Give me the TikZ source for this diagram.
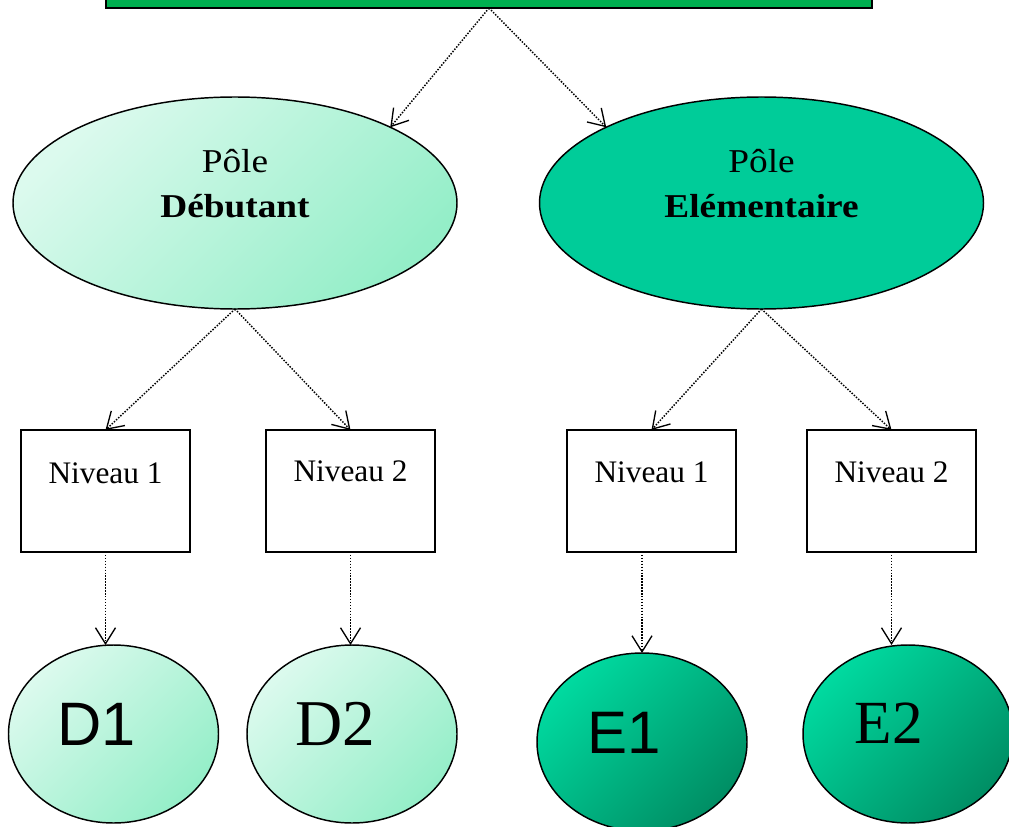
\documentclass[tikz,border=0pt]{standalone}
\usepackage{fontspec}
\setmainfont{Liberation Serif}
\newfontfamily\arialf{Liberation Sans}
\usetikzlibrary{shapes.geometric,arrows.meta}
\definecolor{topgreen}{RGB}{0,176,80}
\definecolor{lightA}{RGB}{220,250,238}
\definecolor{lightB}{RGB}{148,238,200}
\definecolor{elemfill}{RGB}{0,204,153}
\definecolor{darkA}{RGB}{0,218,160}
\definecolor{darkB}{RGB}{0,142,100}
\newcommand{\offtext}[3]{\raisebox{#2}[0pt][0pt]{\makebox[0pt]{\hspace*{#1}#3}}}
\begin{document}
\begin{tikzpicture}[x=0.75pt,y=-0.75pt,
  every node/.style={inner sep=0pt,outer sep=0pt},
  lightshade/.style={top color=lightA,bottom color=lightB,shading angle=45},
  darkshade/.style={top color=darkA,bottom color=darkB,shading angle=45},
  pole/.style={ellipse,draw=black,line width=1.1pt,minimum width=333pt,minimum height=159pt},
  lvl/.style={rectangle,draw=black,line width=1.2pt,fill=white,minimum width=126.75pt,minimum height=91.5pt,font=\fontsize{23.5pt}{28pt}\selectfont},
  leaf/.style={ellipse,draw=black,line width=1.1pt,minimum width=157.5pt,minimum height=133.5pt},
  conn/.style={line width=1.1pt,dash pattern=on 1.1pt off 1.1pt,
    -{Straight Barb[length=12pt,width=15pt,line width=1pt]}},
  poletext/.style={font=\fontsize{25pt}{33.75pt}\selectfont}
]
\useasboundingbox (0,0) rectangle (1009,827);

\node[rectangle,draw=black,line width=1.6pt,fill=topgreen,minimum width=574.5pt,minimum height=60pt] (top) at (489,-32) {};

\node[pole,lightshade,poletext] (deb) at (235,203)
  {\offtext{0pt}{-11.25pt}{\scalebox{1.12}[1]{\begin{tabular}[b]{@{}c@{}}Pôle\\\textbf{Débutant}\end{tabular}}}};
\node[pole,fill=elemfill,poletext] (elem) at (761.5,203)
  {\offtext{0pt}{-11.25pt}{\scalebox{1.12}[1]{\begin{tabular}[b]{@{}c@{}}Pôle\\\textbf{Elémentaire}\end{tabular}}}};

\node[lvl] (n1) at (105.5,491) {\offtext{0pt}{6pt}{Niveau 1}};
\node[lvl] (n2) at (350.5,491) {\offtext{0pt}{7.5pt}{Niveau 2}};
\node[lvl] (n3) at (651.5,491) {\offtext{0pt}{6.2pt}{Niveau 1}};
\node[lvl] (n4) at (891.5,491) {\offtext{0pt}{6.2pt}{Niveau 2}};

\node[leaf,lightshade] (d1) at (113.5,734) {\offtext{-25.5pt}{-8.25pt}{\arialf\fontsize{46pt}{50pt}\selectfont D1}};
\node[leaf,lightshade] (d2) at (352,734) {\offtext{-24.75pt}{-8.25pt}{\fontsize{49pt}{55pt}\selectfont D2}};
\node[leaf,darkshade] (e1) at (642,742) {\offtext{-27pt}{-8.25pt}{\arialf\fontsize{45pt}{50pt}\selectfont E1}};
\node[leaf,darkshade] (e2) at (908,734) {\offtext{-28.5pt}{-6.75pt}{\fontsize{46pt}{52pt}\selectfont E2}};

\draw[conn] (top.south) -- (deb.26);
\draw[conn] (top.south) -- (elem.154);
\draw[conn] (deb.south) -- (n1.north);
\draw[conn] (deb.south) -- (n2.north);
\draw[conn] (elem.south) -- (n3.north);
\draw[conn] (elem.south) -- (n4.north);
\draw[conn] (n1.south) -- (n1.south |- d1.north);
\draw[conn] (n2.south) -- (n2.south |- d2.north);
\draw[conn] (e1.north |- n3.south) -- (e1.north);
\draw[conn] (n4.south) -- (n4.south |- e2.north);
\end{tikzpicture}
\end{document}
